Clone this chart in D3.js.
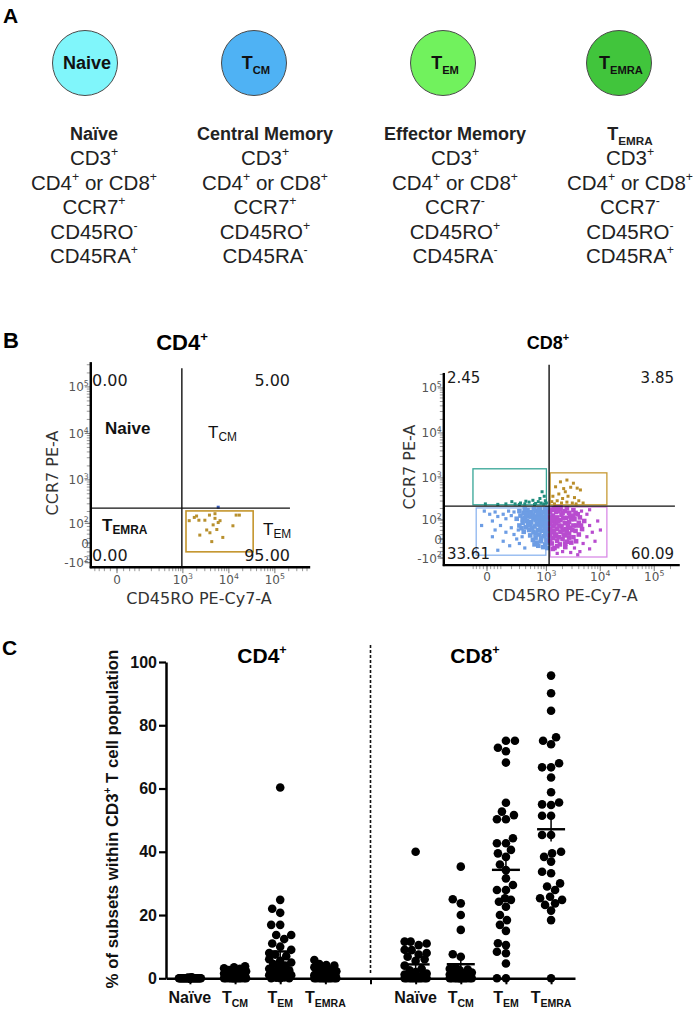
<!DOCTYPE html>
<html><head><meta charset="utf-8">
<script src="https://cdn.jsdelivr.net/npm/d3@7/dist/d3.min.js"></script>
<style>html,body{margin:0;padding:0;background:#fff;}svg{display:block;}</style>
</head><body>
<script>
// ---------------- DATA ----------------
// Panel A
const subsetNames = ["Naive", "T_{CM}", "T_{EM}", "T_{EMRA}"];
const subsetHeadings = ["Naïve", "Central Memory", "Effector Memory", "T_{EMRA}"];
const subsetColors = ["#80f6fb", "#4fb2f4", "#71f25d", "#41c53c"];
const subsetMarkers = [
  ["CD3^{+}", "CD4^{+} or CD8^{+}", "CCR7^{+}", "CD45RO^{-}", "CD45RA^{+}"],
  ["CD3^{+}", "CD4^{+} or CD8^{+}", "CCR7^{+}", "CD45RO^{+}", "CD45RA^{-}"],
  ["CD3^{+}", "CD4^{+} or CD8^{+}", "CCR7^{-}", "CD45RO^{+}", "CD45RA^{-}"],
  ["CD3^{+}", "CD4^{+} or CD8^{+}", "CCR7^{-}", "CD45RO^{-}", "CD45RA^{+}"]
];
// Panel B (flow plots) tick values
const flowXTicks = [{v: 0, l: "0"}, {v: 1e3, l: "10^{3}"}, {v: 1e4, l: "10^{4}"}, {v: 1e5, l: "10^{5}"}];
const flowYTicks = [{v: -100, l: "-10^{2}"}, {v: 0, l: "0"}, {v: 100, l: "10^{2}"}, {v: 1e3, l: "10^{3}"}, {v: 1e4, l: "10^{4}"}, {v: 1e5, l: "10^{5}"}];
const cd4QuadPct = ["0.00", "5.00", "0.00", "95.00"];   // UL, UR, LL, LR
const cd8QuadPct = ["2.45", "3.85", "33.61", "60.09"];
// events in display-decade units [x, y]
const cd4GoldEvents = [[1.57,0.48],[1.73,0.58],[1.78,0.49],[2.01,0.6],[2.13,0.53],[2.24,0.48],[2.09,0.39],[2.17,0.29],[1.95,0.28],[1.8,0.17],[2.06,0.03],[2.3,0.12],[2.52,0.37],[2.59,0.6],[2.66,0.6],[2.13,0.63],[1.91,0.49],[2.2,0.44],[2.02,0.22],[1.68,0.55]];
const cd4BlueEvents = [[2.2,0.77]];
const cd8TealEvents = [[-0.03,0.78],[0.2,0.77],[0.46,0.83],[0.52,0.78],[0.62,0.8],[0.7,0.78],[0.78,0.82],[0.85,0.86],[0.9,0.79],[0.95,0.83],[1.0,0.8],[1.02,1.05],[1.05,0.78],[1.08,0.85],[1.1,0.8],[0.88,0.77],[0.98,0.9],[1.06,0.95],[0.72,0.84],[0.6,0.77],[0.35,0.78]];
const cd8GoldEvents = [[1.27,1.16],[1.36,1.27],[1.48,1.31],[1.6,1.24],[1.67,1.13],[1.73,1.09],[1.45,1.05],[1.33,1.0],[1.5,0.95],[1.4,0.9],[1.62,0.92],[1.2,0.83],[1.3,0.85],[1.38,0.8],[1.48,0.82],[1.58,0.8],[1.7,0.85],[1.25,0.78],[1.55,1.15],[1.42,1.12],[1.22,0.95],[1.65,0.78],[1.78,0.8]];
const cd8BlueSparse = [[0.5,0.6],[0.45,0.52],[0.4,0.62],[0.35,0.45],[0.3,0.55],[0.2,0.5],[0.15,0.6],[0.1,0.4],[0.05,0.55],[-0.05,0.62],[-0.1,0.3],[0.25,0.3],[0.45,0.25],[0.35,0.15],[0.15,0.2],[0.5,0.1],[0.55,0.0],[0.3,-0.05],[0.1,0.05],[0.42,-0.15],[0.6,-0.1],[0.7,-0.2],[0.2,-0.25],[0.65,0.05],[0.58,0.2]];
const cd8BlueDense = [[1.12,0.65],[1.05,0.6],[0.98,0.66],[0.9,0.62],[0.82,0.6],[0.75,0.64],[0.68,0.58],[0.6,0.62],[1.1,0.55],[1.0,0.52],[0.93,0.5],[0.85,0.54],[0.77,0.5],[0.7,0.47],[0.62,0.52],[0.55,0.45],[1.13,0.45],[1.06,0.42],[0.98,0.4],[0.9,0.43],[0.82,0.38],[0.74,0.4],[0.66,0.36],[1.12,0.33],[1.04,0.3],[0.96,0.32],[0.88,0.28],[0.8,0.3],[0.72,0.26],[0.6,0.3],[1.1,0.22],[1.02,0.18],[0.94,0.2],[0.86,0.15],[0.78,0.2],[0.68,0.16],[1.12,0.1],[1.05,0.06],[0.97,0.1],[0.9,0.03],[0.8,0.08],[1.1,-0.02],[1.0,-0.05],[0.92,-0.08],[1.08,-0.12],[0.85,-0.02],[1.12,-0.2],[0.95,-0.15],
  [1.14,0.6],[1.14,0.5],[1.14,0.38],[1.14,0.27],[1.14,0.15],[1.14,0.04],[1.14,-0.08],[1.08,0.66],[1.07,0.5],[1.08,0.36],[1.07,0.25],[1.08,0.14],[1.0,0.6],[1.02,0.45],[1.0,0.35],[0.99,0.25],[1.0,0.02],[0.94,0.58],[0.95,0.44],[0.92,0.34],[0.9,0.12],[0.87,0.66],[0.86,0.46],[0.84,0.24],[0.82,0.5],[0.78,0.56],[0.76,0.32],[0.7,0.66],[0.66,0.44],[0.64,0.24],[1.04,-0.18],[0.88,-0.12],[0.96,0.66],[1.12,0.68],[0.72,0.55]];
const cd8MagentaDense = [[1.2,0.65],[1.28,0.6],[1.36,0.66],[1.44,0.62],[1.52,0.58],[1.6,0.64],[1.68,0.55],[1.22,0.52],[1.3,0.48],[1.38,0.54],[1.46,0.47],[1.54,0.5],[1.62,0.44],[1.72,0.48],[1.2,0.4],[1.28,0.36],[1.36,0.42],[1.44,0.35],[1.52,0.38],[1.6,0.3],[1.7,0.36],[1.8,0.4],[1.22,0.28],[1.3,0.22],[1.38,0.28],[1.46,0.22],[1.54,0.25],[1.64,0.18],[1.76,0.22],[1.2,0.15],[1.28,0.1],[1.36,0.16],[1.44,0.08],[1.52,0.12],[1.6,0.04],[1.7,0.1],[1.22,0.02],[1.3,-0.04],[1.4,0.0],[1.48,-0.06],[1.2,-0.1],[1.35,-0.12],[1.56,-0.08],[1.25,-0.2],[1.45,-0.18],[1.65,-0.05],
  [1.17,0.6],[1.17,0.48],[1.17,0.34],[1.17,0.22],[1.17,0.08],[1.17,-0.04],[1.24,0.68],[1.24,0.44],[1.25,0.32],[1.24,0.18],[1.26,0.06],[1.32,0.62],[1.32,0.4],[1.34,0.3],[1.33,0.04],[1.4,0.58],[1.41,0.46],[1.4,0.2],[1.42,0.1],[1.48,0.68],[1.5,0.3],[1.48,0.16],[1.56,0.44],[1.58,0.2],[1.64,0.58],[1.66,0.3],[1.3,-0.16],[1.45,-0.1],[1.52,0.03],[1.36,0.7],[1.6,0.52],[1.74,0.3],[1.22,-0.22],[1.28,0.7]];
const cd8MagentaSparse = [[1.85,0.55],[1.9,0.3],[1.95,0.15],[2.05,0.4],[1.85,0.05],[1.78,-0.1],[1.62,-0.2],[1.4,-0.28],[1.55,-0.3],[1.3,-0.32],[2.0,-0.05],[1.9,-0.22],[1.72,-0.28],[2.1,0.2],[1.75,0.62],[1.9,0.65],[1.68,-0.35]];
// Panel C
const cGroups = ["CD4 Naïve", "CD4 TCM", "CD4 TEM", "CD4 TEMRA", "sep", "CD8 Naïve", "CD8 TCM", "CD8 TEM", "CD8 TEMRA"];
const cTickLabels = ["Naïve", "T_{CM}", "T_{EM}", "T_{EMRA}", "", "Naïve", "T_{CM}", "T_{EM}", "T_{EMRA}"];
const cYTicks = [0, 20, 40, 60, 80, 100];
const cd4Naive = [0,0,0,0,0,0,0,0,0,0,0,0,0,0,0,0,0,0,0,0,0,0,0,0,0,0,0,0,0,0,0.1,0.1,0.2,0.2,0.3];
const cd4Tcm = [3.8,3.5,3.2,3.0,2.6,2.2,1.8,1.5,1.2,1.0,1.0,0.8,0.7,0.6,0.5,0.5,0.4,0.3,0.3,0.2,0.2,0.1,0.1,0,0,0,0,0,0,0,0,0,0,0,0];
const cd4Tem = [60.3,24.8,22.0,20.7,16.9,16.9,13.7,13.7,12.4,11.0,10.0,9.0,8.0,7.5,7.0,6.0,5.5,5.0,4.5,4.0,3.5,3.0,2.5,2.0,2.0,1.5,1.0,1.0,0.8,0.5,0.3,0.2,0,0,0];
const cd4Temra = [5.8,4.5,4.2,4.0,3.5,3.0,2.6,2.2,2.0,2.0,1.8,1.5,1.5,1.2,1.0,1.0,0.8,0.8,0.6,0.5,0.5,0.3,0.2,0.1,0,0,0,0,0,0,0,0,0,0,0];
const cd8Naive = [40.0,11.6,11.6,11.0,10.5,9.0,8.9,8.0,7.5,6.8,6.0,5.5,4.0,3.0,2.5,2.0,1.5,1.2,1.0,0.8,0.5,0.5,0.3,0.2,0,0,0,0,0,0,0,0,0,0,0];
const cd8Tcm = [35.3,25.0,23.7,20.0,15.3,7.6,6.8,3.5,3.0,2.8,2.5,2.0,1.8,1.5,1.2,1.0,0.8,0.6,0.5,0.5,0.3,0.2,0.1,0,0,0,0,0,0,0,0,0,0,0,0];
const cd8Tem = [75.1,75.1,72.9,71.8,68.2,55.5,52.7,51.6,50.3,50.3,44.3,42.7,42.7,40.6,39.5,38.4,36.0,34.2,31.6,29.5,27.9,27.9,25.3,24.8,24.2,22.6,20.0,18.4,16.9,15.0,11.1,10.5,8.4,7.9,4.7,0,0];
const cd8Temra = [95.7,90.1,84.6,76.2,75.1,74.0,68.0,66.7,66.7,63.5,58.8,55.6,55.0,54.8,51.4,51.4,45.3,45.3,40.0,39.5,38.4,36.9,33.7,33.2,30.0,29.0,27.9,25.8,25.3,24.8,23.7,23.2,21.4,18.4,0];

// ---------------- HELPERS ----------------
const fontA = "'Liberation Sans', Arial, Helvetica, sans-serif";
const fontF = "'DejaVu Sans', Verdana, sans-serif";
const svg = d3.select("body").append("svg").attr("width", 697).attr("height", 1011)
  .style("background", "#fff");

function rich(g, x, y, str, o) {
  const size = o.size;
  const t = g.append("text").attr("x", x).attr("y", y)
    .attr("font-family", o.family || fontA).attr("font-size", size)
    .attr("font-weight", o.weight || "normal").attr("fill", o.fill || "#000")
    .attr("text-anchor", o.anchor || "start");
  if (o.transform) t.attr("transform", o.transform);
  const parts = str.split(/(\^\{[^}]*\}|_\{[^}]*\})/);
  let shift = 0;
  parts.forEach(p => {
    if (!p) return;
    let m, target, fs = size, txt = p;
    if ((m = p.match(/^\^\{(.*)\}$/))) { target = -size * (o.supShift || 0.38); fs = size * (o.supScale || 0.62); txt = m[1]; }
    else if ((m = p.match(/^_\{(.*)\}$/))) { target = size * (o.subShift || 0.25); fs = size * (o.subScale || 0.65); txt = m[1]; }
    else { target = 0; }
    t.append("tspan").attr("dy", target - shift).attr("font-size", fs).text(txt);
    shift = target;
  });
  return t;
}

// ---------------- PANEL A ----------------
const gA = svg.append("g");
rich(gA, 3, 23, "A", {size: 21, weight: "bold"});
const circleX = d3.scaleOrdinal().domain(subsetNames).range([85, 254, 443, 619]);
const textX = d3.scaleOrdinal().domain(subsetNames).range([94, 265, 455, 630]);
subsetNames.forEach((name, i) => {
  const cx = circleX(name), tx = textX(name);
  gA.append("circle").attr("cx", cx).attr("cy", 63).attr("r", 32.5)
    .attr("fill", subsetColors[i]).attr("stroke", "#4a4a4a").attr("stroke-width", 1);
  rich(gA, cx + 2, 69, name, {size: 18, weight: "bold", anchor: "middle", fill: "#111", subScale: 0.62, subShift: 0.25});
  rich(gA, tx, 140, subsetHeadings[i], {size: 18, weight: "bold", anchor: "middle", fill: "#222", subScale: 0.65, subShift: 0.3});
  subsetMarkers[i].forEach((txt, j) => {
    rich(gA, tx, 165 + j * 24.5, txt, {size: 20.5, anchor: "middle", fill: "#222", supScale: 0.6, supShift: 0.42});
  });
});

// ---------------- PANEL B ----------------
const T = (v, c) => Math.asinh(v / (2 * c)) / Math.LN10;
function flowPlot(g, cfg) {
  const xs = cfg.xs, ys = cfg.ys, f = cfg.frame;
  const ax = xs(f.xMin), ay = ys(f.yMin);
  const minorY = [];
  for (let v = -100; v <= 100; v += 20) minorY.push(v);
  [100, 1000, 10000, 100000].forEach(b => { for (let m = 2; m <= 9; m++) minorY.push(m * b); });
  const minorX = [];
  for (let v = -100; v <= 100; v += 25) minorX.push(v);
  [100, 1000, 10000, 100000].forEach(b => { for (let m = 2; m <= 9; m++) minorX.push(m * b); });
  g.append("g").selectAll("line").data(minorY.filter(v => ys(T(v, cfg.cy)) >= ys(f.yMax) && ys(T(v, cfg.cy)) <= ay))
    .join("line").attr("x1", ax - 4).attr("x2", ax).attr("y1", v => ys(T(v, cfg.cy))).attr("y2", v => ys(T(v, cfg.cy)))
    .attr("stroke", "#9a9a9a").attr("stroke-width", 1);
  g.append("g").selectAll("line").data(minorX.filter(v => xs(T(v, cfg.cx)) >= ax && xs(T(v, cfg.cx)) <= xs(f.xMax)))
    .join("line").attr("y1", ay).attr("y2", ay + 4).attr("x1", v => xs(T(v, cfg.cx))).attr("x2", v => xs(T(v, cfg.cx)))
    .attr("stroke", "#9a9a9a").attr("stroke-width", 1);
  flowYTicks.forEach(t => {
    const y = ys(T(t.v, cfg.cy));
    g.append("line").attr("x1", ax - 6).attr("x2", ax).attr("y1", y).attr("y2", y).attr("stroke", "#777");
    rich(g, ax - 2, y + 4.5, t.l, {size: 12, family: fontF, anchor: "end", fill: "#555", supScale: 0.65, supShift: 0.45});
  });
  flowXTicks.forEach(t => {
    const x = xs(T(t.v, cfg.cx));
    g.append("line").attr("x1", x).attr("x2", x).attr("y1", ay).attr("y2", ay + 6).attr("stroke", "#777");
    rich(g, x, ay + cfg.xLabelDy, t.l, {size: 12, family: fontF, anchor: "middle", fill: "#555", supScale: 0.65, supShift: 0.45});
  });
  cfg.gates.forEach(gt => {
    g.append("rect").attr("x", xs(gt.b[0])).attr("y", ys(gt.b[3]))
      .attr("width", xs(gt.b[1]) - xs(gt.b[0])).attr("height", ys(gt.b[2]) - ys(gt.b[3]))
      .attr("fill", "none").attr("stroke", gt.color).attr("stroke-width", gt.w || 1.3);
  });
  cfg.events.forEach(ev => {
    g.append("g").selectAll("rect").data(ev.data).join("rect")
      .attr("x", d => xs(d[0]) - ev.s / 2).attr("y", d => ys(d[1]) - ev.s / 2)
      .attr("width", ev.s).attr("height", ev.s).attr("fill", ev.color);
  });
  const q = cfg.quad;
  g.append("line").attr("x1", xs(q.x)).attr("x2", xs(q.x)).attr("y1", ys(q.yTop)).attr("y2", ay)
    .attr("stroke", "#111").attr("stroke-width", 1.4);
  g.append("line").attr("x1", ax).attr("x2", xs(q.xEnd)).attr("y1", ys(q.y)).attr("y2", ys(q.y))
    .attr("stroke", "#111").attr("stroke-width", 1.4);
  g.append("line").attr("x1", ax).attr("x2", ax).attr("y1", ys(f.yMax)).attr("y2", ay + 1)
    .attr("stroke", "#000").attr("stroke-width", 2.4);
  g.append("line").attr("x1", ax - 1).attr("x2", xs(f.xMax)).attr("y1", ay).attr("y2", ay)
    .attr("stroke", "#000").attr("stroke-width", 2.4);
  g.append("text").attr("transform", `translate(${cfg.yTitle[0]},${cfg.yTitle[1]}) rotate(-90)`)
    .attr("text-anchor", "middle").attr("dominant-baseline", "central")
    .attr("font-family", fontF).attr("font-size", cfg.titleSize).attr("fill", "#333").text("CCR7 PE-A");
  g.append("text").attr("x", cfg.xTitle[0]).attr("y", cfg.xTitle[1]).attr("text-anchor", "middle")
    .attr("font-family", fontF).attr("font-size", cfg.titleSize).attr("fill", "#333").text("CD45RO PE-Cy7-A");
  const p = cfg.pct, pp = cfg.pctPos;
  const pctStyle = (t) => t.attr("font-family", fontF).attr("font-size", cfg.pctSize).attr("fill", "#1a1a1a");
  pctStyle(g.append("text").attr("x", pp.left).attr("y", pp.top).text(p[0]));
  pctStyle(g.append("text").attr("x", pp.right).attr("y", pp.top).attr("text-anchor", "end").text(p[1]));
  pctStyle(g.append("text").attr("x", pp.left).attr("y", pp.bottom).text(p[2]));
  pctStyle(g.append("text").attr("x", pp.right).attr("y", pp.bottom).attr("text-anchor", "end").text(p[3]));
}

const gB = svg.append("g");
rich(gB, 3, 348, "B", {size: 22, weight: "bold"});
rich(gB, 182, 350, "CD4^{+}", {size: 22, weight: "bold", anchor: "middle", supScale: 0.6, supShift: 0.42});
rich(gB, 548, 349, "CD8^{+}", {size: 18, weight: "bold", anchor: "middle", supScale: 0.6, supShift: 0.42});

const cd4Xs = d3.scaleLinear().domain([0, 1]).range([117, 163]);
const cd4Ys = d3.scaleLinear().domain([0, 1]).range([543, 496.5]);
flowPlot(gB, {
  xs: cd4Xs, ys: cd4Ys, cx: 37, cy: 44,
  frame: {xMin: -0.57, xMax: 4.2, yMin: -0.52, yMax: 3.89},
  quad: {x: 1.41, y: 0.75, yTop: 3.76, xEnd: 3.76},
  gates: [{b: [1.5, 2.96, -0.19, 0.69], color: "#c4952c", w: 1.6}],
  events: [{data: cd4GoldEvents, color: "#b8902e", s: 3}, {data: cd4BlueEvents, color: "#3b5fc0", s: 3}],
  pct: cd4QuadPct, pctPos: {left: 92, right: 290, top: 386, bottom: 561}, pctSize: 16,
  xLabelDy: 17, yTitle: [52, 473], xTitle: [199, 604], titleSize: 16
});
rich(gB, 105, 434, "Naive", {size: 17, weight: "bold", fill: "#111"});
rich(gB, 208, 438, "T_{CM}", {size: 17, fill: "#111", subScale: 0.7, subShift: 0.2});
rich(gB, 102, 531, "T_{EMRA}", {size: 17, weight: "bold", fill: "#111", subScale: 0.7, subShift: 0.2});
rich(gB, 263, 535, "T_{EM}", {size: 17, fill: "#111", subScale: 0.7, subShift: 0.2});

const cd8Xs = d3.scaleLinear().domain([0, 1]).range([487, 541]);
const cd8Ys = d3.scaleLinear().domain([0, 1]).range([539, 494]);
flowPlot(gB, {
  xs: cd8Xs, ys: cd8Ys, cx: 80, cy: 44,
  frame: {xMin: -0.8, xMax: 3.57, yMin: -0.58, yMax: 3.69},
  quad: {x: 1.15, y: 0.73, yTop: 3.87, xEnd: 3.48},
  gates: [
    {b: [-0.26, 1.1, 0.76, 1.56], color: "#36a596"},
    {b: [1.17, 2.22, 0.76, 1.47], color: "#c79a35"},
    {b: [-0.2, 1.09, -0.36, 0.69], color: "#8db5ef"},
    {b: [1.17, 2.22, -0.4, 0.71], color: "#d98ae6"}
  ],
  events: [
    {data: cd8BlueSparse, color: "#6d9de4", s: 3.2},
    {data: cd8BlueDense, color: "#6d9de4", s: 4.6},
    {data: cd8MagentaSparse, color: "#b84ccf", s: 3.2},
    {data: cd8MagentaDense, color: "#b84ccf", s: 4.6},
    {data: cd8TealEvents, color: "#1f8c7c", s: 3},
    {data: cd8GoldEvents, color: "#b98d2a", s: 3}
  ],
  pct: cd8QuadPct, pctPos: {left: 447, right: 674, top: 383, bottom: 559}, pctSize: 15,
  xLabelDy: 16, yTitle: [409, 467], xTitle: [565, 601], titleSize: 16
});

// ---------------- PANEL C ----------------
const gC = svg.append("g");
rich(gC, 2, 655, "C", {size: 21, weight: "bold"});
const xC = d3.scalePoint().domain(cGroups).range([166, 575]).padding(0.53);
const yC = d3.scaleLinear().domain([0, 100]).range([978.3, 662]);
const seriesC = {
  "CD4 Naïve": cd4Naive, "CD4 TCM": cd4Tcm, "CD4 TEM": cd4Tem, "CD4 TEMRA": cd4Temra,
  "CD8 Naïve": cd8Naive, "CD8 TCM": cd8Tcm, "CD8 TEM": cd8Tem, "CD8 TEMRA": cd8Temra
};
const yAxis = d3.axisLeft(yC).tickValues(cYTicks).tickSize(7).tickSizeOuter(0).tickFormat(d3.format("d"));
const gy = gC.append("g").attr("transform", "translate(166,0)").call(yAxis);
gy.select(".domain").attr("stroke-width", 2.5);
gy.selectAll(".tick line").attr("stroke-width", 2.2);
gy.selectAll(".tick text").attr("font-family", fontA).attr("font-size", 16).attr("font-weight", "bold").attr("fill", "#111").attr("x", -9);
const xAxis = d3.axisBottom(xC).tickSize(6).tickSizeOuter(0).tickFormat("");
const gx = gC.append("g").attr("transform", "translate(0,978.3)").call(xAxis);
gx.select(".domain").attr("stroke-width", 2.5);
gx.selectAll(".tick line").attr("stroke-width", 2);
cGroups.forEach((gname, i) => {
  if (cTickLabels[i]) rich(gC, xC(gname), 1003, cTickLabels[i], {size: 16, weight: "bold", anchor: "middle", fill: "#111", subScale: 0.66, subShift: 0.25});
});
gC.append("line").attr("x1", xC("sep")).attr("x2", xC("sep")).attr("y1", 645).attr("y2", 973)
  .attr("stroke", "#111").attr("stroke-width", 1.6).attr("stroke-dasharray", "3,2");
rich(gC, 262, 663, "CD4^{+}", {size: 21, weight: "bold", anchor: "middle", supScale: 0.6, supShift: 0.42});
rich(gC, 475, 663, "CD8^{+}", {size: 21, weight: "bold", anchor: "middle", supScale: 0.6, supShift: 0.42});
rich(gC, 0, 0, "% of subsets within CD3^{+} T cell population", {size: 16.8, weight: "bold", anchor: "middle", fill: "#111",
  transform: "translate(118,819) rotate(-90)", supScale: 0.6, supShift: 0.4});

const dotR = 4.3, maxOff = 11, minD = dotR * 1.9;
Object.entries(seriesC).forEach(([gname, vals]) => {
  const cx = xC(gname);
  const sorted = vals.slice().sort((a, b) => a - b);
  const placed = [];
  sorted.forEach(v => {
    const y = yC(v);
    let best = null, bestScore = -1;
    for (let k = 0; k <= maxOff * 2; k++) {
      const off = (k % 2 === 0 ? 1 : -1) * Math.ceil(k / 2);
      let md = Infinity;
      placed.forEach(p => { const d = Math.hypot(p.x - (cx + off), p.y - y); if (d < md) md = d; });
      if (md >= minD) { best = off; bestScore = Infinity; break; }
      if (md > bestScore) { bestScore = md; best = off; }
    }
    placed.push({x: cx + best, y: y});
  });
  gC.append("g").selectAll("circle").data(placed).join("circle")
    .attr("cx", d => d.x).attr("cy", d => d.y).attr("r", dotR).attr("fill", "#000");
  const m = d3.mean(vals), sem = d3.deviation(vals) / Math.sqrt(vals.length);
  gC.append("line").attr("x1", cx - 14).attr("x2", cx + 14).attr("y1", yC(m)).attr("y2", yC(m))
    .attr("stroke", "#000").attr("stroke-width", 2.4);
  gC.append("line").attr("x1", cx).attr("x2", cx).attr("y1", yC(m + sem)).attr("y2", yC(Math.max(0, m - sem)))
    .attr("stroke", "#000").attr("stroke-width", 1.5);
});
</script>
</body></html>
